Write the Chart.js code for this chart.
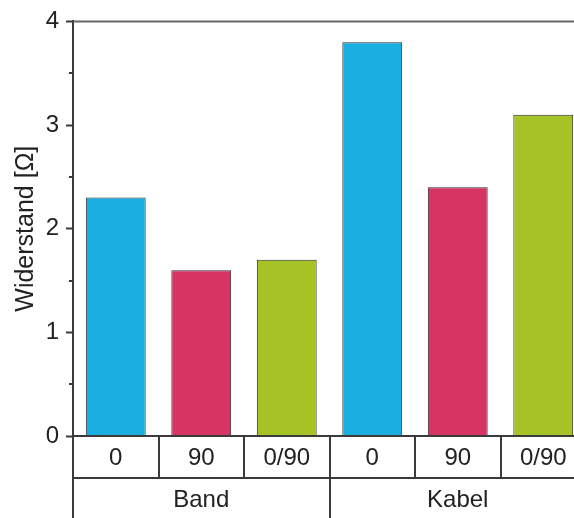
<!DOCTYPE html>
<html>
<head>
<meta charset="utf-8">
<script src="https://cdn.jsdelivr.net/npm/chart.js@4"></script>
<style>
  body { margin: 0; background: #fff; }
  #wrap { width: 574px; height: 518px; overflow: hidden; }
</style>
</head>
<body>
<div id="wrap"><canvas id="myChart" width="600" height="518"></canvas></div>
<script>
// Widerstand je Probe: Band und Kabel, jeweils 0 / 90 / 0/90
let labels = ['0', '90', '0/90', '0', '90', '0/90'];
let groups = ['Band', 'Kabel'];
let groupSize = 3;
let values = [2.3, 1.6, 1.7, 3.8, 2.4, 3.1];
let colors = ['#1BAEE0', '#D73463', '#A6C325', '#1BAEE0', '#D73463', '#A6C325'];
let yTicks = [0, 1, 2, 3, 4];
let yMinor = [0.5, 1.5, 2.5, 3.5];

const font = 'Liberation Sans, Arial, sans-serif';
const lineCol = '#3a3a3a';

// Rahmen oben, kleine Ticks und die Tabelle unter der x-Achse
const tablePlugin = {
  id: 'table',
  afterDraw(chart) {
    const ctx = chart.ctx;
    const a = chart.chartArea;
    const x = chart.scales.x;
    const y = chart.scales.y;
    const n = labels.length;
    const w = (x.getPixelForValue(1) - x.getPixelForValue(0));
    const row1 = a.bottom + 42;
    const row2 = chart.height + 4;

    ctx.save();
    ctx.strokeStyle = '#666';
    ctx.lineWidth = 2;
    ctx.beginPath();
    ctx.moveTo(a.left, a.top);
    ctx.lineTo(a.right, a.top);
    ctx.moveTo(a.right, a.top);
    ctx.lineTo(a.right, row2);
    ctx.stroke();

    // kleine Ticks
    ctx.strokeStyle = lineCol;
    ctx.beginPath();
    yMinor.forEach(v => {
      const py = Math.round(y.getPixelForValue(v));
      ctx.moveTo(a.left - 4, py);
      ctx.lineTo(a.left, py);
    });
    ctx.stroke();

    // Tabellenlinien
    ctx.beginPath();
    ctx.moveTo(a.left, a.bottom);
    ctx.lineTo(a.left, row2);
    ctx.moveTo(a.left, a.bottom);
    ctx.lineTo(a.right, a.bottom);
    ctx.moveTo(a.left, row1);
    ctx.lineTo(a.right, row1);
    for (let i = 1; i < n; i++) {
      const px = Math.round(x.getPixelForValue(i) - w / 2);
      ctx.moveTo(px, a.bottom);
      ctx.lineTo(px, i % groupSize === 0 ? row2 : row1);
    }
    ctx.stroke();

    ctx.fillStyle = '#222';
    ctx.font = '24px ' + font;
    ctx.textAlign = 'center';
    ctx.textBaseline = 'middle';
    labels.forEach((l, i) => {
      ctx.fillText(l, x.getPixelForValue(i), (a.bottom + row1) / 2 + 1);
    });
    groups.forEach((g, j) => {
      const mid = (x.getPixelForValue(j * groupSize) + x.getPixelForValue(j * groupSize + groupSize - 1)) / 2;
      ctx.fillText(g, mid, row1 + 22);
    });
    ctx.restore();
  }
};

let chart = new Chart(document.getElementById('myChart').getContext('2d'), {
  type: 'bar',
  data: {
    labels: labels,
    datasets: [{
      data: values,
      backgroundColor: colors,
      borderColor: '#2e2e2e',
      borderWidth: 1,
      categoryPercentage: 1,
      barPercentage: 0.7
    }]
  },
  options: {
    responsive: false,
    animation: false,
    layout: { padding: { top: 21, bottom: 82, right: 14, left: 0 } },
    plugins: { legend: { display: false }, tooltip: { enabled: false } },
    scales: {
      x: { display: false },
      y: {
        min: 0,
        max: 4,
        afterFit(scale) { scale.width = 73; },
        afterBuildTicks(scale) { scale.ticks = yTicks.map(v => ({ value: v })); },
        ticks: {
          stepSize: 1,
          padding: 7,
          color: '#222',
          font: { family: font, size: 24 }
        },
        grid: {
          drawOnChartArea: false,
          tickLength: 7,
          tickColor: lineCol,
          tickWidth: 2
        },
        border: { display: true, color: lineCol, width: 2 },
        title: {
          display: true,
          text: 'Widerstand [Ω]',
          color: '#222',
          font: { family: font, size: 25 },
          padding: { top: 11, bottom: 0 }
        }
      }
    }
  },
  plugins: [tablePlugin]
});
</script>
</body>
</html>
